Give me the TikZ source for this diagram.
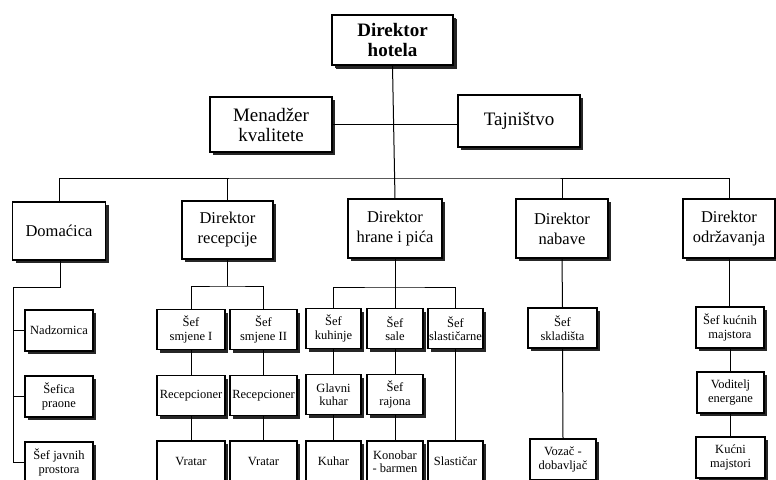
\documentclass[tikz,border=0pt]{standalone}
\usepackage{fontspec}
\setmainfont{Liberation Serif}
\usetikzlibrary{shadows}
\begin{document}
\begin{tikzpicture}[x=1pt,y=-1pt,
  box/.style={draw, line width=1.1pt, fill=white, inner sep=0pt, align=center,
    drop shadow={shadow xshift=3.3pt, shadow yshift=-3.3pt, fill=black!85, opacity=1}},
  topbox/.style={box, line width=1.8pt,
    drop shadow={shadow xshift=4.2pt, shadow yshift=-4.2pt, fill=black!85, opacity=1},
    font=\fontsize{19}{20}\selectfont\bfseries},
  midbox/.style={box, font=\fontsize{19}{20}\selectfont},
  l2box/.style={box, minimum width=92pt, minimum height=59pt, font=\fontsize{16.5}{20}\selectfont},
  l3box/.style={box, minimum width=68pt, minimum height=40pt, font=\fontsize{12.5}{13.5}\selectfont},
  l3n/.style={l3box, minimum width=55pt},
  conn/.style={line width=1pt}]
\useasboundingbox (0,0) rectangle (776,479);
\clip (0,0) rectangle (776,479);
\fill[white] (0,0) rectangle (776,479);

% top level
\node[topbox, minimum width=121pt, minimum height=50pt] (hotel) at (392.5,40) {Direktor\\hotela};
\node[midbox, minimum width=122pt, minimum height=55pt] (men) at (271,124.5) {Menadžer\\kvalitete};
\node[midbox, minimum width=122pt, minimum height=52pt] (taj) at (519,121) {Tajništvo};

% level 2
\node[l2box, minimum width=93pt, minimum height=58pt] (dom) at (59,231) {Domaćica};
\node[l2box, minimum width=91pt, minimum height=58pt] (rec) at (227.5,230) {Direktor\\recepcije};
\node[l2box, minimum width=94pt] (hrana) at (395,228.5) {Direktor\\hrane i pića};
\node[l2box] (nab) at (562,228.5) {Direktor\\nabave};
\node[l2box] (odr) at (729,228.5) {Direktor\\održavanja};

% level 3 - domaćica
\node[l3box, minimum height=41pt] (nad) at (59,330.5) {Nadzornica};
\node[l3box, minimum height=41pt] (pra) at (59,396.5) {Šefica\\praone};
\node[l3box, minimum height=41pt] (jav) at (59,462.5) {Šef javnih\\prostora};

% recepcija
\node[l3box] (s1) at (191,329.5) {Šef\\smjene I};
\node[l3box, minimum width=67pt] (s2) at (263.5,329.5) {Šef\\smjene II};
\node[l3box] (rc1) at (191,395.5) {Recepcioner};
\node[l3box, minimum width=67pt] (rc2) at (263.5,395.5) {Recepcioner};
\node[l3box, minimum height=41pt] (v1) at (191,461.5) {Vratar};
\node[l3box, minimum width=67pt, minimum height=41pt] (v2) at (263.5,461.5) {Vratar};

% hrana i piće
\node[l3n] (kuh) at (333.5,328.5) {Šef\\kuhinje};
\node[l3n, minimum width=56pt] (sale) at (395,328.5) {Šef\\sale};
\node[l3n] (sla) at (455.5,328.5) {Šef\\slastičarne};
\node[l3n] (glk) at (333.5,394.5) {Glavni\\kuhar};
\node[l3n, minimum width=56pt] (raj) at (395,394.5) {Šef\\rajona};
\node[l3n, minimum height=41pt] (kuhar) at (333.5,461.5) {Kuhar};
\node[l3n, minimum width=56pt, minimum height=41pt] (kon) at (395,461.5) {Konobar\\- barmen};
\node[l3n, minimum height=41pt] (slast) at (455.5,461.5) {Slastičar};

% nabava
\node[l3box, minimum width=69pt] (skl) at (562.5,328) {Šef\\skladišta};
\node[l3box, minimum width=66pt, minimum height=41pt] (voz) at (563,459.5) {Vozač -\\dobavljač};

% održavanje
\node[l3box, minimum height=41pt] (kuc) at (730,327.5) {Šef kućnih\\majstora};
\node[l3box, minimum width=67pt, minimum height=41pt] (vod) at (730.5,392.5) {Voditelj\\energane};
\node[l3box, minimum width=69pt, minimum height=41pt] (kucm) at (730.5,457.5) {Kućni\\majstori};

% connectors - top
\coordinate (bar) at (395,178);
\draw[conn] (hotel.south) -- (hrana.north);
\draw[conn] (men.east) -- (men.east -| taj.west);
\draw[conn] (dom.north) |- (bar) -| (odr.north);
\draw[conn] (rec.north) -- (rec.north |- bar);
\draw[conn] (nab.north) -- (nab.north |- bar);

% domaćica
\coordinate (dj) at (60,287);
\coordinate (dl) at (13,287);
\draw[conn] (dom.south -| dj) -- (dj) -- (dl) |- (jav.west);
\draw[conn] (nad.west) -- (nad.west -| dl);
\draw[conn] (pra.west) -- (pra.west -| dl);

% recepcija
\coordinate (rj) at (227.5,286);
\draw[conn] (rec.south) -- (rj);
\draw[conn] (s1.north) |- (rj) -| (s2.north);
\draw[conn] (s1.south) -- (rc1.north);
\draw[conn] (rc1.south) -- (v1.north);
\draw[conn] (s2.south) -- (rc2.north);
\draw[conn] (rc2.south) -- (v2.north);

% hrana
\coordinate (fj) at (395,287);
\draw[conn] (hrana.south) -- (sale.north);
\draw[conn] (kuh.north) |- (fj) -| (sla.north);
\draw[conn] (kuh.south) -- (glk.north);
\draw[conn] (glk.south) -- (kuhar.north);
\draw[conn] (sale.south) -- (raj.north);
\draw[conn] (raj.south) -- (kon.north);
\draw[conn] (sla.south) -- (slast.north);

% nabava
\draw[conn] (nab.south) -- (skl.north);
\draw[conn] (skl.south) -- (voz.north);

% održavanje
\draw[conn] (odr.south) -- (odr.south |- kuc.north);
\draw[conn] (kuc.south) -- (kuc.south |- vod.north);
\draw[conn] (vod.south) -- (kucm.north);
\end{tikzpicture}
\end{document}
